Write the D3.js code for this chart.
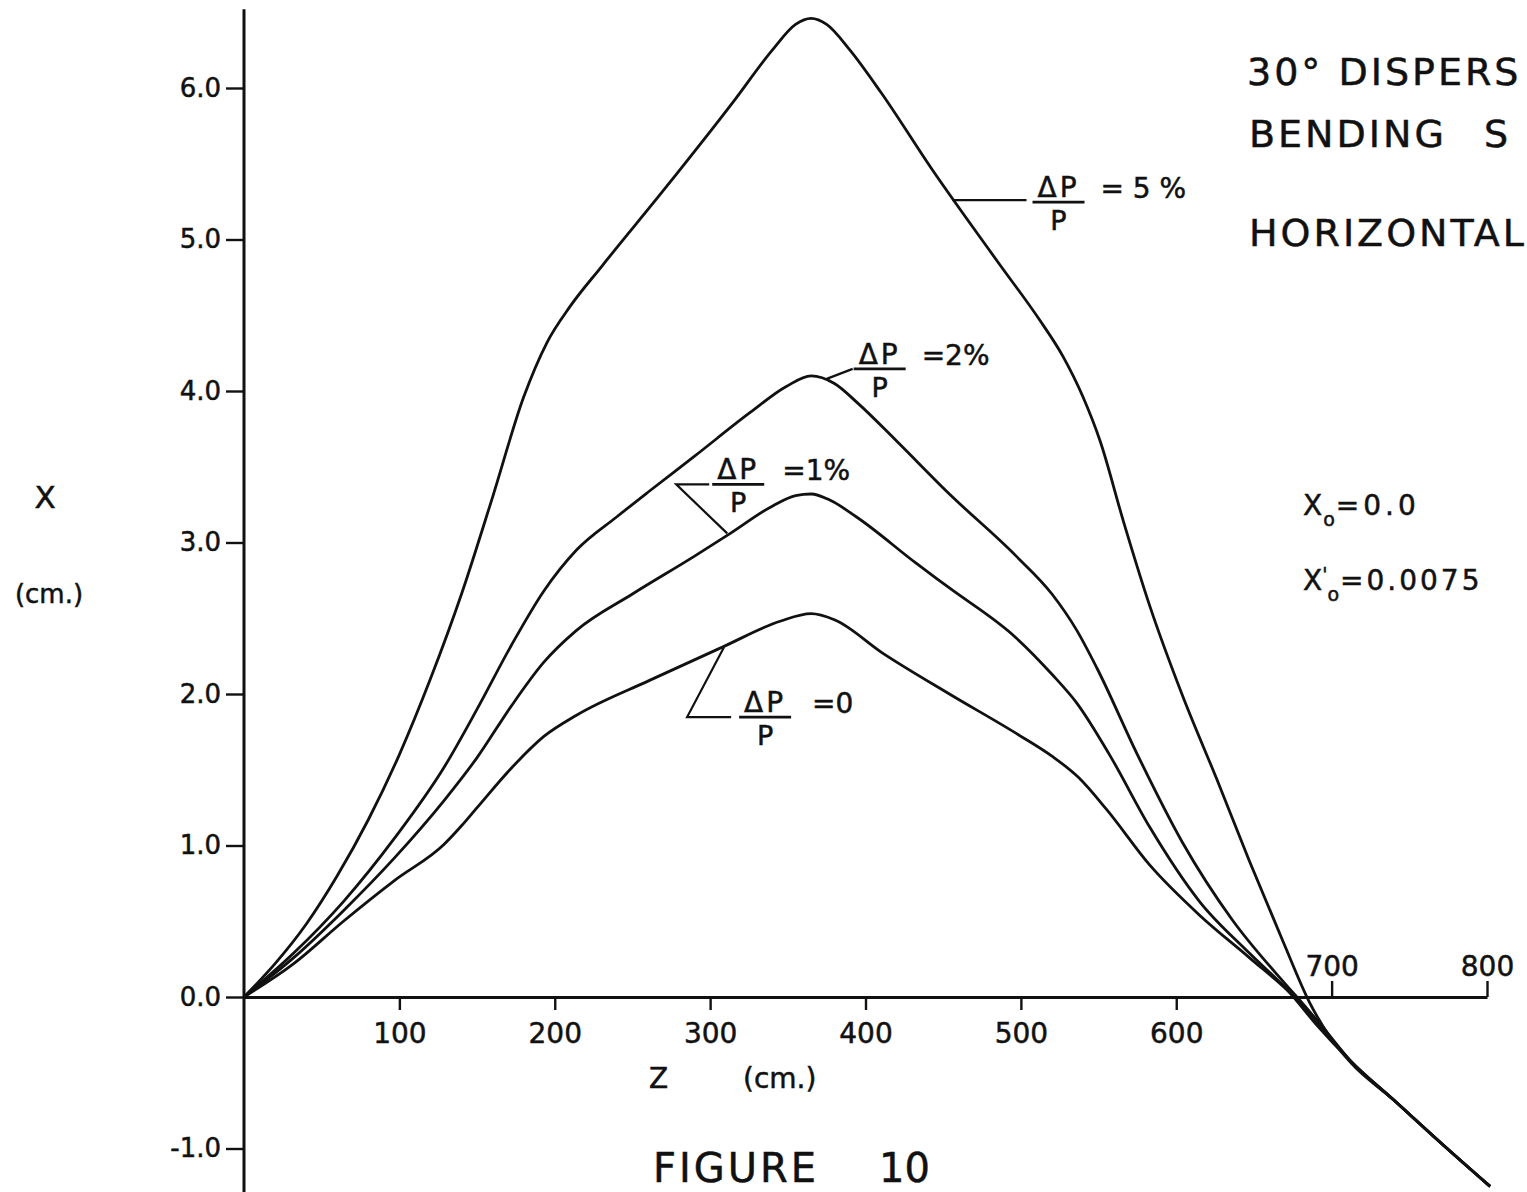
<!DOCTYPE html>
<html>
<head>
<meta charset="utf-8">
<script src="https://cdn.jsdelivr.net/npm/d3@7"></script>
<style>
  body { margin: 0; background: #fff; }
  svg { display: block; }
  text { font-family: "DejaVu Sans", sans-serif; fill: #111; stroke: #111; stroke-width: 0.5px; }
</style>
</head>
<body>
<svg id="chart" width="1527" height="1192"></svg>
<script>
// [z (cm), x (cm)], one list per momentum spread
const dp0 = [[0,0],[32,0.22],[64,0.50],[97,0.77],[129,1.01],[140,1.13],[150,1.25],[172,1.51],[193,1.72],[214,1.86],
  [261,2.09],[308,2.31],[345,2.48],[365,2.53],[380,2.49],[411,2.27],[454,2.00],[497,1.74],[520,1.59],
  [537,1.45],[555,1.24],[583,0.87],[615,0.54],[647,0.26],[675,0.01],[692,-0.18],[712,-0.42],
  [740,-0.68],[770,-0.96],[802,-1.25]]
const dp1 = [[0,0],[32,0.26],[64,0.57],[97,0.92],[129,1.30],[150,1.58],[172,1.92],[193,2.21],[214,2.42],
  [250,2.66],[290,2.91],[313,3.06],[340,3.24],[355,3.31],[365,3.32],[377,3.28],[394,3.17],[433,2.86],
  [454,2.70],[497,2.37],[520,2.13],[536,1.94],[557,1.60],[583,1.12],[615,0.63],[647,0.29],[673,0.03],
  [690,-0.18],[712,-0.42],[740,-0.68],[770,-0.96],[802,-1.25]]
const dp2 = [[0,0],[32,0.29],[64,0.63],[97,1.05],[129,1.52],[150,1.90],[172,2.32],[193,2.68],[214,2.95],
  [240,3.17],[261,3.34],[290,3.57],[326,3.86],[349,4.03],[365,4.10],[380,4.05],[395,3.92],[420,3.67],
  [454,3.32],[497,2.91],[520,2.66],[536,2.42],[549,2.17],[575,1.60],[604,1.02],[636,0.51],[669,0.10],
  [682,-0.05],[696,-0.22],[712,-0.42],[740,-0.68],[770,-0.96],[802,-1.25]]
const dp5 = [[0,0],[20,0.22],[40,0.48],[60,0.80],[80,1.17],[100,1.60],[120,2.10],[140,2.66],[160,3.30],
  [180,3.96],[195,4.32],[210,4.56],[230,4.82],[272,5.35],[315,5.91],[340,6.25],[355,6.42],[365,6.46],
  [375,6.42],[390,6.25],[410,5.97],[443,5.46],[486,4.84],[512,4.47],[527,4.23],[540,3.96],[551,3.67],
  [566,3.14],[583,2.58],[604,1.99],[626,1.44],[647,0.90],[669,0.36],[686,-0.04],[698,-0.25],[712,-0.43],
  [740,-0.68],[770,-0.96],[802,-1.25]]

const yTicks = [-1, 0, 1, 2, 3, 4, 5, 6]
const zTicksBelow = [100, 200, 300, 400, 500, 600]
const zTicksAbove = [700, 800]

// curve labels: anchor on the curve in data units, the rest in pixel offsets from it
const curveLabels = [
  {eq: "= 5 %", anchor: [456, 5.26], leader: [[0,0],[74,0]], frac: [106, 2], eqDx: 148},
  {eq: "=2%", anchor: [375, 4.08], leader: [[0,0],[26,-10]], frac: [53, -10], eqDx: 95},
  {eq: "=1%", anchor: [311, 3.06], leader: [[0,0],[-51,-49],[-18,-49]], frac: [11, -49], eqDx: 55},
  {eq: "=0", anchor: [309, 2.31], leader: [[0,0],[-37,70],[7,70]], frac: [41, 70], eqDx: 88}
]

let svg = d3.select("#chart")
let ink = "#111"

let x = d3.scaleLinear().domain([0, 800]).range([244, 1487]),
    y = d3.scaleLinear().domain([0, 6]).range([997, 88])

// vertical axis
svg.append("line")
  .attr("x1", x(0)).attr("x2", x(0))
  .attr("y1", y(6.52)).attr("y2", y(-1.35))
  .attr("stroke", ink).attr("stroke-width", 3)

let yAxis = svg.append("g")
  .attr("transform", "translate(" + x(0) + ",0)")
  .call(d3.axisLeft(y).tickValues(yTicks).tickSize(18).tickPadding(5).tickFormat(d => d.toFixed(1)))
yAxis.select(".domain").remove()

// horizontal axis: ticks 100-600 hang below, 700 and 800 stand above
let xAxis = svg.append("g")
  .attr("transform", "translate(0," + y(0) + ")")
  .call(d3.axisBottom(x).tickValues(zTicksBelow).tickSize(13).tickSizeOuter(0).tickPadding(13))

let xTop = svg.append("g")
  .attr("transform", "translate(0," + y(0) + ")")
  .call(d3.axisTop(x).tickValues(zTicksAbove).tickSize(16).tickPadding(5))
xTop.select(".domain").remove()

svg.selectAll(".tick line").attr("stroke", ink).attr("stroke-width", 2.4)
xAxis.select(".domain").attr("stroke", ink).attr("stroke-width", 3)
svg.selectAll(".tick text")
  .attr("font-family", "DejaVu Sans, sans-serif")
  .attr("font-size", 28).attr("fill", ink)
yAxis.selectAll(".tick text").attr("font-size", 26)

// curves
let line = d3.line()
  .x(d => x(d[0]))
  .y(d => y(d[1]))
  .curve(d3.curveMonotoneX)

svg.selectAll(".curve")
  .data([dp0, dp1, dp2, dp5])
  .enter().append("path")
  .attr("class", "curve")
  .attr("d", line)
  .attr("fill", "none")
  .attr("stroke", ink)
  .attr("stroke-width", 2.8)
  .attr("stroke-linejoin", "round")

// ΔP/P labels with leader lines
curveLabels.forEach(l => {
  let ax = x(l.anchor[0]), ay = y(l.anchor[1])
  svg.append("path")
    .attr("d", d3.line()(l.leader.map(p => [ax + p[0], ay + p[1]])))
    .attr("fill", "none").attr("stroke", ink).attr("stroke-width", 2.2)
  let cx = ax + l.frac[0], by = ay + l.frac[1]
  svg.append("line")
    .attr("x1", cx - 26).attr("x2", cx + 26).attr("y1", by).attr("y2", by)
    .attr("stroke", ink).attr("stroke-width", 2.8)
  svg.append("text").attr("x", cx).attr("y", by - 5)
    .attr("text-anchor", "middle").attr("font-size", 28).attr("letter-spacing", 3)
    .text("ΔP")
  svg.append("text").attr("x", cx).attr("y", by + 28)
    .attr("text-anchor", "middle").attr("font-size", 27)
    .text("P")
  svg.append("text").attr("x", ax + l.eqDx).attr("y", by - 4)
    .attr("font-size", 28)
    .text(l.eq)
})

// axis titles
svg.append("text").attr("x", 45).attr("y", 508).attr("text-anchor", "middle")
  .attr("font-size", 31).text("X")
svg.append("text").attr("x", 49).attr("y", 603).attr("text-anchor", "middle")
  .attr("font-size", 26).text("(cm.)")
svg.append("text").attr("x", 649).attr("y", 1088).attr("font-size", 28).text("Z")
svg.append("text").attr("x", 743).attr("y", 1088).attr("font-size", 28).text("(cm.)")

// figure caption
svg.append("text").attr("x", 653).attr("y", 1182).attr("font-size", 40).attr("letter-spacing", 3).text("FIGURE")
svg.append("text").attr("x", 879).attr("y", 1182).attr("font-size", 40).text("10")

// title block
svg.append("text").attr("x", 1247).attr("y", 85).attr("font-size", 38).attr("letter-spacing", 3)
  .text("30° DISPERS")
svg.append("text").attr("x", 1249).attr("y", 147).attr("font-size", 38).attr("letter-spacing", 3)
  .attr("word-spacing", 22).text("BENDING S")
svg.append("text").attr("x", 1249).attr("y", 246).attr("font-size", 38).attr("letter-spacing", 3)
  .text("HORIZONTAL")

// initial conditions, sub/superscripts as tspans set side by side
let x0 = svg.append("text").attr("x", 1303).attr("y", 515).attr("font-size", 28)
x0.append("tspan").text("X")
x0.append("tspan").attr("dx", 1).attr("dy", 11).attr("font-size", 19).text("o")
x0.append("tspan").attr("dx", 1).attr("dy", -11).attr("letter-spacing", 4).text("=0.0")

let xp = svg.append("text").attr("x", 1303).attr("y", 590).attr("font-size", 28)
xp.append("tspan").text("X")
xp.append("tspan").attr("dx", 0).attr("dy", -9).attr("font-size", 19).text("'")
xp.append("tspan").attr("dx", 0).attr("dy", 20).attr("font-size", 19).text("o")
xp.append("tspan").attr("dx", 1).attr("dy", -11).attr("letter-spacing", 3).text("=0.0075")
</script>
</body>
</html>
